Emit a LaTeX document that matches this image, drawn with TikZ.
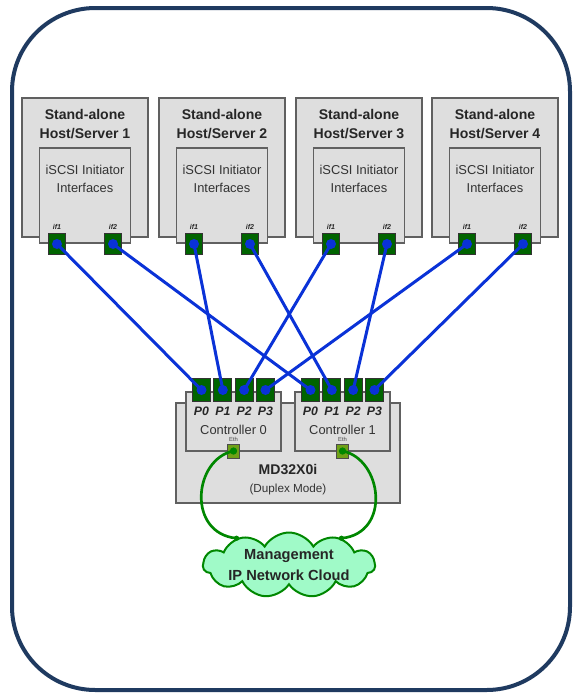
\documentclass[tikz,border=0pt]{standalone}
\usepackage{fontspec}
\setsansfont{Liberation Sans}
\usetikzlibrary{positioning, calc, shapes.symbols}
\definecolor{framenavy}{RGB}{31,58,96}
\definecolor{wireblue}{RGB}{10,50,215}
\definecolor{portgreen}{RGB}{0,100,0}
\definecolor{ethgreen}{RGB}{112,160,24}
\definecolor{linkgreen}{RGB}{0,135,0}
\definecolor{cloudmint}{RGB}{160,250,200}
\definecolor{boxgrey}{RGB}{222,222,222}
\definecolor{edgegrey}{RGB}{96,96,96}
\tikzset{
  every node/.style={font=\sffamily, text=black!85},
  frame/.style={draw=framenavy, line width=1.2mm, rounded corners=25mm},
  host/.style={draw=edgegrey, fill=boxgrey, line width=0.45mm, minimum width=37.8mm, minimum height=41.7mm},
  ifbox/.style={draw=edgegrey, fill=boxgrey, line width=0.45mm, minimum width=27.3mm, minimum height=28.5mm},
  ctrl/.style={draw=edgegrey, fill=boxgrey, line width=0.45mm, minimum width=28.5mm, minimum height=17.7mm},
  array/.style={draw=edgegrey, fill=boxgrey, line width=0.45mm, minimum width=67.2mm, minimum height=30mm},
  hport/.style={draw=black!80, fill=portgreen, line width=0.3mm, minimum width=5.1mm, minimum height=6.3mm, inner sep=0pt},
  cport/.style={hport, minimum width=5.4mm, minimum height=6.9mm},
  ethport/.style={draw=black!70, fill=ethgreen, line width=0.3mm, minimum width=3.6mm, minimum height=4.2mm, inner sep=0pt},
  hosttitle/.style={font=\sffamily\bfseries\fontsize{12}{16}\selectfont, align=center},
  iftext/.style={font=\sffamily\fontsize{11}{15.5}\selectfont, align=center, text=black!80},
  iflab/.style={font=\sffamily\bfseries\itshape\fontsize{6}{7}\selectfont, inner sep=0pt},
  plab/.style={font=\sffamily\bfseries\itshape\fontsize{10.5}{12}\selectfont, inner sep=0pt},
  ethlab/.style={font=\sffamily\fontsize{5}{6}\selectfont, inner sep=0pt, text=black!70},
  wire/.style={draw=wireblue, line width=0.9mm, line cap=round},
  mgmt/.style={draw=linkgreen, line width=0.8mm},
  netcloud/.style={cloud, cloud puffs=11, cloud puff arc=120, cloud ignores aspect, draw=linkgreen, fill=cloudmint, line width=0.6mm, minimum width=51.6mm, minimum height=19.5mm, inner sep=0pt},
}

\begin{document}
\begin{tikzpicture}[x=0.3mm, y=-0.3mm]
  \useasboundingbox (0,0) rectangle (573,695);
  \draw[frame] (12,8) rectangle (570,690);

  % ---- hosts with their initiator ports ------------------------------------
  \foreach \h/\hx in {1/85, 2/222, 3/359, 4/495} {
    \node[host] (host\h) at (\hx,167.5) {};
    \node[ifbox] (ifs\h) at (\hx,195.5) {};
    \node[hosttitle] (title\h) at (\hx,124) {Stand-alone\\Host/Server \h};
    \node[iftext] (iftxt\h) at (\hx,179) {iSCSI Initiator\\Interfaces};
    \node[hport] (h\h-1) at (\hx-28,244) {};
    \node[hport] (h\h-2) at (\hx+28,244) {};
    \node[iflab] at (\hx-28,227) {if1};
    \node[iflab] at (\hx+28,227) {if2};
  }

  % ---- storage array and its two controllers -------------------------------
  \node[array] (md) at (288,453) {};
  \foreach \c/\cx in {0/233.5, 1/342.5} {
    \node[ctrl] (ctl\c) at (\cx,421.5) {};
    \foreach \p in {0,...,3} {
      \node[cport] (c\c-\p) at (\cx-32+21.33*\p,390) {};
      \node[plab] at (\cx-32+21.33*\p,411) {P\p};
    }
    \node[iftext] at (\cx,430) {Controller \c};
    \node[ethport] (eth\c) at (\cx,451) {};
    \node[ethlab] at (\cx,439) {Eth};
  }
  \node[font=\sffamily\bfseries\fontsize{12}{14}\selectfont] (mdname) at (288,469) {MD32X0i};
  \node[font=\sffamily\fontsize{10}{12}\selectfont, text=black!80] (mdmode) at (288,489) {(Duplex Mode)};

  % ---- iSCSI wiring ---------------------------------------------------------
  \foreach \h in {1,...,4} {
    \pgfmathtruncatemacro\q{\h-1}
    \draw[wire] (h\h-1.center) -- (c0-\q.center);
    \draw[wire] (h\h-2.center) -- (c1-\q.center);
    \foreach \n in {h\h-1, h\h-2, c0-\q, c1-\q}
      \fill[wireblue] (\n.center) circle (1.5mm);
  }

  % ---- management network ---------------------------------------------------
  \node[netcloud] (cloud) at (289,565) {};
  \node[font=\sffamily\bfseries\fontsize{12.5}{18}\selectfont, align=center] (cloudtxt) at (cloud.center) {Management\\IP Network Cloud};
  \draw[mgmt] (eth0.center) .. controls +(-40,8) and +(-50,-5) .. (cloud.153);
  \draw[mgmt] (eth1.center) .. controls +(40,8) and +(50,-5) .. (cloud.27);
  \foreach \n in {eth0, eth1}
    \fill[linkgreen] (\n.center) circle (1.1mm);
  \fill[linkgreen] (cloud.153) circle (0.8mm);
  \fill[linkgreen] (cloud.27) circle (0.8mm);
\end{tikzpicture}
\end{document}
